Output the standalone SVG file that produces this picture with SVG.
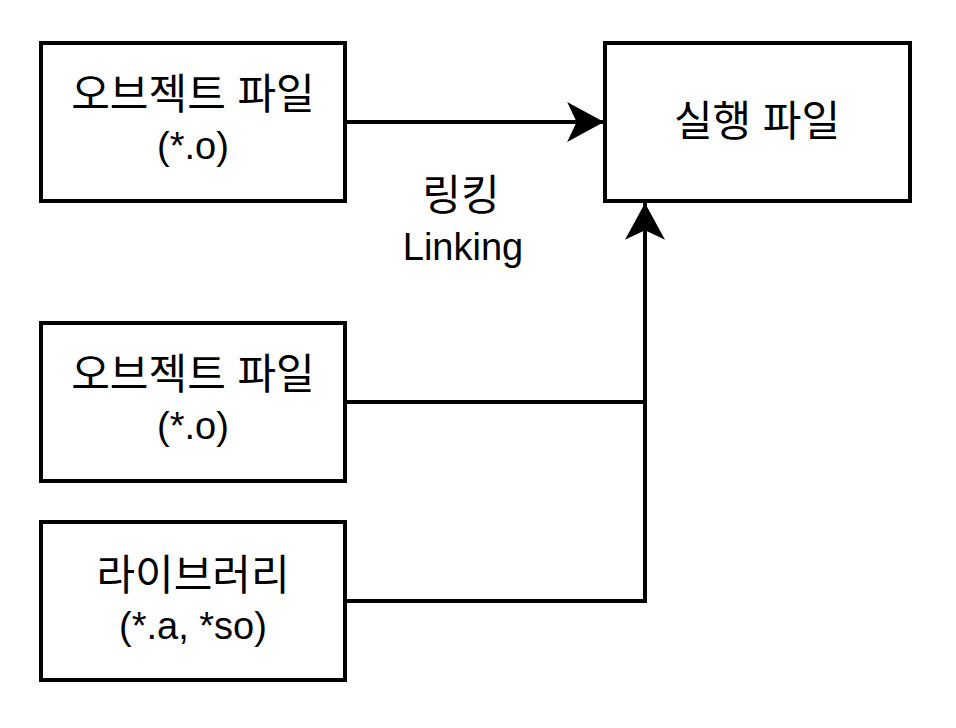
<svg xmlns="http://www.w3.org/2000/svg" width="956" height="728" viewBox="0 0 956 728">
<style>
.box{fill:#fff;stroke:#000;stroke-width:4}
.t{font-family:"Liberation Sans","Noto Sans CJK KR",sans-serif;font-size:38px;fill:#000;text-anchor:middle}
.k{font-size:42px}
.c{fill:none;stroke:#000;stroke-width:4}
</style>
<defs>
<marker id="ah" markerUnits="userSpaceOnUse" markerWidth="40" markerHeight="40" viewBox="0 0 36 38" refX="35" refY="19" orient="auto">
<path d="M35,19 L0,0 L9,19 L0,38 Z" fill="#000"/>
</marker>
</defs>
<rect width="956" height="728" fill="#fff"/>
<g id="connectors">
<path class="c" d="M345,122 L604,122" marker-end="url(#ah)"/>
<path class="c" d="M345,402 L645,402 L645,203" marker-end="url(#ah)"/>
<path class="c" d="M345,601 L645,601 L645,402"/>
</g>
<g id="obj1">
<rect class="box" x="41" y="43" width="304" height="158"/>
<text class="t k" x="193" y="109">오브젝트 파일</text>
<text class="t" x="193" y="159">(*.o)</text>
</g>
<g id="exe">
<rect class="box" x="605" y="43" width="305" height="158"/>
<text class="t k" x="757" y="136">실행 파일</text>
</g>
<g id="obj2">
<rect class="box" x="41" y="323" width="304" height="158"/>
<text class="t k" x="193" y="389">오브젝트 파일</text>
<text class="t" x="193" y="439">(*.o)</text>
</g>
<g id="lib">
<rect class="box" x="41" y="522" width="304" height="158"/>
<text class="t k" x="193" y="590">라이브러리</text>
<text class="t" x="193" y="639">(*.a, *so)</text>
</g>
<g id="label">
<text class="t k" x="461" y="210">링킹</text>
<text class="t" x="463" y="260">Linking</text>
</g>
</svg>
